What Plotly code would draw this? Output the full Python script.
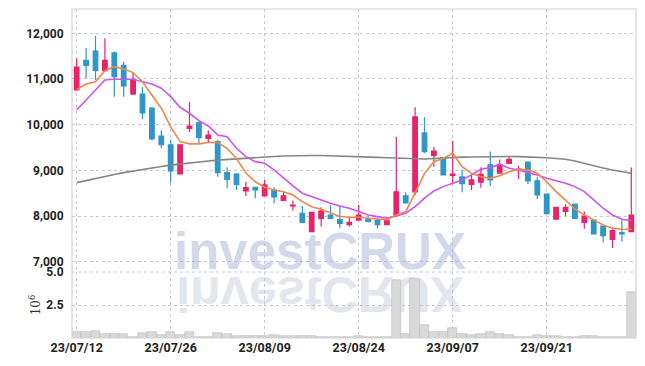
import base64
import plotly.graph_objects as go

dates = [
    "2023-07-12", "2023-07-13", "2023-07-14", "2023-07-17", "2023-07-18", "2023-07-19", "2023-07-20", "2023-07-21",
    "2023-07-24", "2023-07-25", "2023-07-26", "2023-07-27", "2023-07-28", "2023-07-31", "2023-08-01", "2023-08-02",
    "2023-08-03", "2023-08-04", "2023-08-07", "2023-08-08", "2023-08-09", "2023-08-10", "2023-08-11", "2023-08-14",
    "2023-08-16", "2023-08-17", "2023-08-18", "2023-08-21", "2023-08-22", "2023-08-23", "2023-08-24", "2023-08-25",
    "2023-08-28", "2023-08-29", "2023-08-30", "2023-08-31", "2023-09-01", "2023-09-04", "2023-09-05", "2023-09-06",
    "2023-09-07", "2023-09-08", "2023-09-11", "2023-09-12", "2023-09-13", "2023-09-14", "2023-09-15", "2023-09-18",
    "2023-09-19", "2023-09-20", "2023-09-21", "2023-09-22", "2023-09-25", "2023-09-26", "2023-09-27", "2023-10-04",
    "2023-10-05", "2023-10-06", "2023-10-10", "2023-10-11",
]
open_ = [10760, 11410, 11610, 11180, 11570, 11300, 10670, 10670, 10360, 9750, 9560, 8920, 9920, 10040, 9700, 9630,
         8950, 8920, 8550, 8630, 8440, 8570, 8340, 8220, 8060, 7660, 7950, 8020, 7920, 7810, 7910, 7930, 7900, 7810,
         8020, 8440, 8530, 9820, 9330, 9280, 8890, 8860, 8690, 8740, 9120, 8940, 9150, 9010, 9180, 8770, 8480, 7930,
         8100, 8260, 7860, 7910, 7780, 7490, 7640, 7660]
high = [11450, 11680, 11940, 11890, 11600, 11380, 11140, 10820, 10380, 9880, 9670, 9570, 10500, 10070, 9880, 9670,
        9070, 8940, 8750, 8640, 8790, 8630, 8530, 8340, 8220, 8090, 8190, 8240, 8240, 7970, 8240, 7990, 7970, 7970,
        9730, 8520, 10380, 10160, 9510, 9290, 9640, 9020, 8900, 9070, 9410, 9240, 9300, 9100, 9180, 8860, 8490, 8190,
        8260, 8260, 8100, 7920, 7790, 7710, 7910, 9060]
low = [10740, 11010, 10980, 11160, 10610, 10610, 10660, 10120, 9660, 9490, 8730, 8920, 9840, 9600, 9600, 8860,
       8610, 8570, 8440, 8390, 8430, 8280, 8330, 8120, 7860, 7660, 7770, 7930, 7730, 7770, 7910, 7860, 7730, 7800,
       8020, 8290, 8460, 9380, 9080, 8900, 8710, 8520, 8570, 8620, 8660, 8930, 9150, 8810, 8700, 8370, 8050, 7930,
       8000, 7950, 7720, 7610, 7420, 7300, 7440, 7650]
close = [11260, 11300, 11190, 11410, 11050, 10850, 10990, 10260, 9690, 9560, 8990, 9560, 9970, 9720, 9770, 8950,
         8800, 8690, 8620, 8570, 8680, 8420, 8440, 8240, 7860, 8080, 8110, 7950, 7840, 7860, 8020, 7880, 7810, 7900,
         8530, 8290, 10170, 9410, 9420, 8900, 8920, 8710, 8790, 8910, 8790, 9130, 9240, 9030, 8770, 8460, 8050, 8190,
         8190, 7950, 8000, 7610, 7570, 7680, 7610, 8020]
volume = [430000, 430000, 530000, 300000, 300000, 300000, 100000, 400000, 450000, 230000, 450000, 230000, 450000,
          100000, 100000, 380000, 300000, 150000, 150000, 150000, 150000, 230000, 150000, 120000, 120000, 120000,
          100000, 80000, 60000, 60000, 120000, 60000, 60000, 60000, 4400000, 300000, 4470000, 1020000, 480000,
          480000, 730000, 300000, 230000, 300000, 450000, 300000, 200000, 100000, 100000, 200000, 120000, 120000,
          60000, 60000, 120000, 120000, 60000, 60000, 40000, 3500000]
ma5 = [10770, 10890, 10940, 11180, 11270, 11220, 11140, 10940, 10650, 10360, 9950, 9630, 9580, 9580, 9610, 9610,
       9480, 9260, 8940, 8750, 8630, 8570, 8530, 8460, 8315, 8205, 8150, 8075, 7990, 7975, 7975, 7950, 7930, 7915,
       8025, 8095, 8500, 8935, 9190, 9265, 9375, 9080, 8935, 8860, 8825, 8880, 8970, 9025, 9010, 8935, 8750, 8535,
       8350, 8150, 8025, 7915, 7805, 7735, 7710, 7710]
ma10 = [10322, 10541, 10759, 10978, 10994, 10994, 10994, 10941, 10891, 10797, 10613, 10381, 10250, 10088, 9972,
        9775, 9738, 9484, 9300, 9191, 9156, 9009, 8827, 8659, 8499, 8425, 8353, 8280, 8221, 8171, 8097, 8024, 7987,
        7952, 8002, 8062, 8206, 8390, 8550, 8644, 8718, 8790, 8900, 9024, 9059, 9134, 9046, 9009, 8950, 8900, 8827,
        8775, 8718, 8644, 8534, 8353, 8171, 8024, 7930, 7900]
ma60 = [8731, 8779, 8823, 8867, 8911, 8950, 8987, 9020, 9053, 9086, 9114, 9140, 9162, 9184, 9206, 9223, 9239, 9252,
        9265, 9276, 9293, 9304, 9315, 9322, 9326, 9326, 9324, 9320, 9315, 9309, 9302, 9293, 9285, 9276, 9267, 9256,
        9250, 9250, 9258, 9272, 9282, 9289, 9293, 9298, 9300, 9302, 9302, 9300, 9296, 9287, 9276, 9261, 9243, 9206,
        9151, 9097, 9053, 9009, 8972, 8937]
price_ticks = [7000, 8000, 9000, 10000, 11000, 12000]
label_idx = [0, 10, 20, 30, 40, 50]
tick_text = [dates[i][2:].replace("-", "/") for i in label_idx]

# trading-day position of each session (gaps for weekends/holidays removed)
xpos = list(range(len(dates)))

RED = "#e8236c"
BLUE = "#2f96c8"
YFONT = dict(family="Roboto, sans-serif", size=12, color="#222222", weight="bold")
XFONT = dict(family="Roboto, sans-serif", size=12.5, color="#222222", weight="bold")

fig = go.Figure()
fig.add_trace(go.Bar(x=xpos, y=volume, yaxis="y2", xaxis="x", width=1.0,
                     marker=dict(color="#d9d9d9", line=dict(color="#bcbcbc", width=0.6)),
                     showlegend=False, hoverinfo="skip"))
fig.add_trace(go.Scatter(x=xpos, y=ma60, mode="lines", line=dict(color="#858585", width=1.6),
                         showlegend=False, yaxis="y", xaxis="x"))
fig.add_trace(go.Scatter(x=xpos, y=ma10, mode="lines", line=dict(color="#cc55ee", width=1.6),
                         showlegend=False, yaxis="y", xaxis="x"))
fig.add_trace(go.Scatter(x=xpos, y=ma5, mode="lines", line=dict(color="#f0874a", width=1.6),
                         showlegend=False, yaxis="y", xaxis="x"))
fig.add_trace(go.Candlestick(x=xpos, open=open_, high=high, low=low, close=close,
                             increasing=dict(line=dict(color=RED, width=1.2), fillcolor=RED),
                             decreasing=dict(line=dict(color=BLUE, width=1.2), fillcolor=BLUE),
                             whiskerwidth=0, showlegend=False, yaxis="y", xaxis="x"))

# reflected watermark (decorative)
svg = ('<svg xmlns="http://www.w3.org/2000/svg" width="600" height="100" viewBox="0 0 600 100">'
       '<g transform="translate(0,100) scale(1,-1)">'
       '<text x="300" y="90" text-anchor="middle" font-family="Liberation Sans, Arial, sans-serif" '
       'font-weight="bold" font-size="104" fill="#e4e6ee">investCRUX</text></g></svg>')
src = "data:image/svg+xml;base64," + base64.b64encode(svg.encode()).decode()

# page body has an 8px margin: figure is sized to fit the 645x366 window inside it
OFF = 8
W, H = 645 - 2 * OFF, 366 - 2 * OFF
L, T = 72 - OFF, 9 - OFF
R = W - (636 - OFF)
B = H - (338 - OFF)
pw, ph = W - L - R, H - T - B
def px(xw):
    return (xw - OFF - L) / pw
def py(yw):
    return (H - B - (yw - OFF)) / ph

vol_top = py(272)
GRID = dict(showgrid=True, gridcolor="#c6c8d6", griddash="dot", gridwidth=1, zeroline=False, automargin=False)

fig.update_layout(
    width=W, height=H, margin=dict(l=L, r=R, t=T, b=B, autoexpand=False),
    paper_bgcolor="white", plot_bgcolor="white",
    bargap=0, showlegend=False,
    xaxis=dict(type="linear", range=[-0.5, len(dates) - 0.5], anchor="y2",
               tickvals=label_idx, ticktext=tick_text, tickfont=XFONT,
               ticks="", ticklen=0,
               rangeslider=dict(visible=False), showline=False, **GRID),
    yaxis=dict(domain=[vol_top, 1], range=[6775, 12532], tickvals=price_ticks,
               tickformat=",d", tickfont=YFONT,
               ticks="outside", ticklen=5, tickcolor="rgba(0,0,0,0)", **GRID),
    yaxis2=dict(domain=[0, vol_top], range=[0, 5.0e6], tickvals=[2.5e6, 5.0e6], ticktext=["2.5", "5.0"],
                tickfont=YFONT, ticks="outside", ticklen=5, tickcolor="rgba(0,0,0,0)",
                title=dict(text="10<sup>6</sup>", font=dict(family="DejaVu Serif, serif", size=12, color="#333"),
                           standoff=3), **GRID),
    images=[dict(source=src, xref="paper", yref="paper", x=px(320), y=py(272), sizex=290 / pw, sizey=48 / ph,
                 xanchor="center", yanchor="top", sizing="stretch", layer="below")],
    annotations=[dict(text="investCRUX", xref="paper", yref="paper", x=px(320), y=py(251),
                      xanchor="center", yanchor="middle", showarrow=False,
                      font=dict(family="Liberation Sans, Arial, sans-serif", size=51, weight="bold",
                                color="rgba(168,180,216,0.5)"))],
    shapes=[dict(type="rect", xref="paper", yref="paper", x0=0, x1=1, y0=0, y1=1,
                 line=dict(color="#d4d4d4", width=1.2), layer="above"),
            dict(type="line", xref="paper", yref="paper", x0=0, x1=1, y0=vol_top, y1=vol_top,
                 line=dict(color="#c6c8d6", width=1, dash="dot"), layer="below")],
)

fig.write_html("out.html")
